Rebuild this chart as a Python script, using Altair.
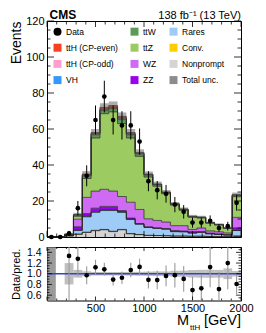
import altair as alt
import pandas as pd
import numpy as np

# ---------------- data ----------------
x_lo, x_hi = 0, 2000
n_bins = 22
data_counts = [0, 0, 2, 16, 34, 65, 78, 65, 62, 62, 53, 31, 26, 24, 18, 14, 8, 8, 9, 5, 6, 19]

# stacked backgrounds, bottom -> top
nonprompt = [0, 0.1, 0.6, 1.5, 2.5, 3.5, 4.0, 3.0, 4.0, 1.8, 1.3, 0.9, 0.8, 0.7, 0.5, 0.5, 0.4, 0.4, 0.3, 0.2, 0.2, 0.5]
conv      = [0, 0, 0, 0.1, 0.2, 0.2, 0.2, 0.2, 0.2, 0.1, 0.1, 0, 0, 0, 0, 0, 0, 0, 0, 0, 0, 0]
rares     = [0, 0, 0.4, 2.0, 8.5, 10.0, 10.5, 11.5, 9.5, 7.8, 5.7, 4.4, 4.0, 3.7, 2.5, 2.4, 1.8, 2.2, 1.5, 1.2, 0.9, 3.1]
vh        = [0, 0, 0, 0.2, 0.3, 0.3, 0.3, 0.3, 0.2, 0.2, 0.1, 0.1, 0.1, 0, 0, 0, 0, 0, 0, 0, 0, 0]
zz        = [0, 0, 0.1, 1.9, 1.5, 2.0, 2.0, 2.0, 0.8, 0.6, 0.3, 0.2, 0.1, 0.2, 0.6, 0.4, 0.8, 0.4, 0.3, 0.3, 0.2, 1.5]
wz        = [0, 0, 0.3, 4.2, 9.0, 9.5, 9.5, 8.5, 7.8, 8.8, 7.8, 4.5, 4.2, 3.7, 2.7, 3.0, 1.2, 2.0, 1.3, 1.2, 1.0, 5.8]
ttz       = [0, 0, 0.1, 1.6, 10.5, 29.5, 42.0, 44.0, 40.5, 35.7, 29.5, 23.2, 19.0, 15.7, 11.4, 8.5, 6.8, 5.6, 4.3, 3.8, 2.5, 11.5]
ttw       = [0, 0, 0, 0.6, 1.5, 2.0, 2.0, 2.0, 2.5, 2.0, 1.5, 1.2, 0.9, 0.7, 0.5, 0.5, 0.3, 0.3, 0.2, 0.2, 0.1, 0.8]
tth_odd   = [0, 0, 0, 0.1, 0.3, 0.4, 0.5, 0.5, 0.5, 0.3, 0.2, 0.2, 0.1, 0.1, 0.1, 0.1, 0, 0, 0, 0, 0, 0.1]
tth_even  = [0, 0, 0, 0.3, 0.7, 0.6, 1.0, 1.0, 1.0, 0.7, 0.5, 0.3, 0.3, 0.2, 0.2, 0.1, 0.2, 0.1, 0.1, 0.1, 0.1, 0.2]
total_unc = [0, 0, 0.3, 0.9, 1.6, 2.0, 2.3, 2.3, 2.2, 2.0, 1.7, 1.4, 1.3, 1.1, 1.0, 0.9, 0.8, 0.8, 0.6, 0.5, 0.5, 1.2]

stack_names = ["Nonprompt", "Conv.", "Rares", "VH", "ZZ", "WZ", "ttZ", "ttW",
               "ttH (CP-odd)", "ttH (CP-even)"]
stack_vals = [nonprompt, conv, rares, vh, zz, wz, ttz, ttw, tth_odd, tth_even]

# legend entries (filled column by column, 4 rows)
legend_order = ["Data", "ttH (CP-even)", "ttH (CP-odd)", "VH",
                "ttW", "ttZ", "WZ", "ZZ",
                "Rares", "Conv.", "Nonprompt", "Total unc."]
legend_colors = ["#000000", "#f8421f", "#ff9fd0", "#3399ff",
                 "#5b9b57", "#9ccb62", "#cf6af2", "#9a00f0",
                 "#9fcbf7", "#ffcc00", "#d4d4d4", "#8c8c8c"]
legend_shapes = ["circle"] + ["square"] * 11

y_labels = [0, 20, 40, 60, 80, 100, 120]
r_labels = [0.6, 0.8, 1.0, 1.2, 1.4]
x_labels = [500, 1000, 1500, 2000]

# ---------------- derived tables ----------------
edges = np.linspace(x_lo, x_hi, n_bins + 1)
blo, bhi = edges[:-1], edges[1:]
ctr = (blo + bhi) / 2

area_rows, line_rows = [], []
cum = np.zeros(n_bins)
for name, vals in zip(stack_names, stack_vals):
    v = np.array(vals, dtype=float)
    new = cum + v
    for i in range(n_bins + 1):
        k = min(i, n_bins - 1)
        area_rows.append(dict(proc=name, x=edges[i], y0=cum[k], y1=new[k]))
        line_rows.append(dict(proc=name, x=edges[i], y=new[k]))
    cum = new
total = cum
df_area = pd.DataFrame(area_rows)
df_line = pd.DataFrame(line_rows)

unc = np.array(total_unc)
df_unc = pd.DataFrame(dict(x0=blo, x1=bhi, lo=total - unc, hi=total + unc))[total > 0]

n = np.array(data_counts, dtype=float)
df_data = pd.DataFrame(dict(x=ctr, n=n, lo=n - np.sqrt(n), hi=n + np.sqrt(n)))

has = total > 0
safe = np.where(has, total, 1.0)
df_ratio = pd.DataFrame(dict(x=ctr, r=n / safe, lo=(n - np.sqrt(n)) / safe,
                             hi=(n + np.sqrt(n)) / safe))[has]
df_rband = pd.DataFrame(dict(x0=blo, x1=bhi, lo=1 - unc / safe, hi=1 + unc / safe))[has]
df_rempty = pd.DataFrame(dict(x0=blo, x1=bhi, lo=0.5, hi=1.5))[~has]

# ---------------- scales / axes ----------------
W, H, HR = 194, 216, 53.5
FONT = "Liberation Sans"
xs = alt.Scale(domain=[x_lo, x_hi], nice=False, zero=False)
ys = alt.Scale(domain=[0, 120], nice=False, zero=False)
rs = alt.Scale(domain=[0.5, 1.5], nice=False, zero=False)
cscale = alt.Scale(domain=legend_order, range=legend_colors)

y_axis = alt.Axis(values=y_labels, tickSize=0, domain=False, grid=False, labelFontSize=11,
                  labelPadding=3, labelFlush=False, labelColor="black", labelFont=FONT,
                  title="Events", titleFontSize=14, titleFontWeight="normal", titleFont=FONT,
                  titleColor="black", titleAnchor="end", titlePadding=2,
                  minExtent=22, maxExtent=22)
r_axis = alt.Axis(values=r_labels, format=".1f", tickSize=0, domain=False, grid=False,
                  labelFontSize=10.5, labelPadding=6, labelFlush=False, labelColor="black",
                  labelFont=FONT, title="Data/pred.", titleFontSize=11,
                  titleFontWeight="normal", titleFont=FONT, titleColor="black",
                  titlePadding=4, minExtent=22, maxExtent=22)
rx_axis = alt.Axis(values=x_labels, format="d", tickSize=0, domain=False, grid=False,
                   labelFontSize=11, labelPadding=2, labelFlush=False, labelColor="black",
                   labelFont=FONT, title=None)

MX = lambda f: alt.X(f, scale=xs, axis=None)
MY = lambda f: alt.Y(f, scale=ys, axis=y_axis, stack=None)
RX = lambda f: alt.X(f, scale=xs, axis=rx_axis)
RY = lambda f: alt.Y(f, scale=rs, axis=r_axis, stack=None)


def ticks_x(values, panel_h, length, enc_x):
    d = pd.DataFrame({"v": values})
    bot = alt.Chart(d).mark_rule(color="black", strokeWidth=0.8).encode(
        x=enc_x("v:Q"), y=alt.value(panel_h), y2=alt.value(panel_h - length))
    top = alt.Chart(d).mark_rule(color="black", strokeWidth=0.8).encode(
        x=enc_x("v:Q"), y=alt.value(0), y2=alt.value(length))
    return [bot, top]


def ticks_y(values, length, enc_y):
    d = pd.DataFrame({"v": values})
    left = alt.Chart(d).mark_rule(color="black", strokeWidth=0.8).encode(
        y=enc_y("v:Q"), x=alt.value(0), x2=alt.value(length))
    right = alt.Chart(d).mark_rule(color="black", strokeWidth=0.8).encode(
        y=enc_y("v:Q"), x=alt.value(W), x2=alt.value(W - length))
    return [left, right]


x_major = list(range(0, 2001, 500))
x_minor = [v for v in range(0, 2001, 100) if v % 500]
y_major = y_labels
y_minor = [v for v in range(0, 121, 5) if v % 20]
r_major = r_labels
r_minor = [round(v, 2) for v in np.arange(0.55, 1.5, 0.05) if round(v * 100) % 20 != 0]

one = pd.DataFrame({"a": [0]})

leg = alt.Legend(orient="none", legendX=6, legendY=6, columns=3, title=None,
                 symbolSize=64, symbolStrokeColor="black", symbolStrokeWidth=0.6,
                 symbolOpacity=1, labelFontSize=8.5, labelFont=FONT, labelColor="black",
                 labelOffset=4, rowPadding=5.2, columnPadding=11, padding=0)

# ---------------- main panel ----------------
areas = alt.Chart(df_area).mark_area(interpolate="step-after", opacity=1).encode(
    x=MX("x:Q"), y=MY("y1:Q"), y2="y0",
    color=alt.Color("proc:N", scale=cscale, legend=leg))
steps = alt.Chart(df_line).mark_line(interpolate="step-after", color="#222222",
                                     strokeWidth=0.7).encode(
    x=MX("x:Q"), y=MY("y:Q"), detail="proc:N")
band = alt.Chart(df_unc).mark_rect(color="#5a5a5a", opacity=0.5).encode(
    x=MX("x0:Q"), x2="x1", y=MY("lo:Q"), y2="hi")
err = alt.Chart(df_data).mark_rule(color="black", strokeWidth=1).encode(
    x=MX("x:Q"), y=MY("lo:Q"), y2="hi")
pts = alt.Chart(df_data).mark_circle(color="black", size=22, opacity=1).encode(
    x=MX("x:Q"), y=MY("n:Q"))

legend_layer = alt.Chart(pd.DataFrame({"proc": legend_order})).mark_point(
    filled=True, opacity=0).encode(
    x=alt.value(100), y=alt.value(100),
    color=alt.Color("proc:N", scale=cscale, legend=leg),
    shape=alt.Shape("proc:N", scale=alt.Scale(domain=legend_order, range=legend_shapes),
                    legend=leg))

cms = alt.Chart(one).mark_text(text="CMS", font=FONT, fontWeight="bold", fontSize=12,
                               align="left", baseline="top", color="black").encode(
    x=alt.value(2.5), y=alt.value(-11.5))
lumi = alt.Chart(one).mark_text(text="138 fb\u207b\u00b9 (13 TeV)", font=FONT, fontSize=11,
                                align="right", baseline="top", color="black").encode(
    x=alt.value(W), y=alt.value(-11))

main_layers = [areas, steps, band, err, pts]
main_layers += ticks_x(x_major, H, 6, MX) + ticks_x(x_minor, H, 3.5, MX)
main_layers += ticks_y(y_major, 7, MY) + ticks_y(y_minor, 3.5, MY)
main_layers += [cms, lumi, legend_layer]
main = alt.layer(*main_layers).properties(width=W, height=H)

# ---------------- ratio panel ----------------
rempty = alt.Chart(df_rempty).mark_rect(color="#7a7a7a", opacity=0.75).encode(
    x=RX("x0:Q"), x2="x1", y=RY("lo:Q"), y2="hi")
rband = alt.Chart(df_rband).mark_rect(color="#8a8a8a", opacity=0.55).encode(
    x=RX("x0:Q"), x2="x1", y=RY("lo:Q"), y2="hi")
one_line = alt.Chart(pd.DataFrame({"v": [1.0]})).mark_rule(color="#3344cc", strokeWidth=1.6).encode(
    y=RY("v:Q"))
rerr = alt.Chart(df_ratio).mark_rule(color="#9a9a9a", strokeWidth=1.1, clip=True).encode(
    x=RX("x:Q"), y=RY("lo:Q"), y2="hi")
rpts = alt.Chart(df_ratio).mark_circle(color="black", size=22, opacity=1, clip=True).encode(
    x=RX("x:Q"), y=RY("r:Q"))

xt_m = alt.Chart(one).mark_text(text="M", font=FONT, fontSize=14.5, align="right",
                                baseline="alphabetic", color="black").encode(
    x=alt.value(142), y=alt.value(78))
xt_s = alt.Chart(one).mark_text(text="ttH", font=FONT, fontSize=8, align="left",
                                baseline="alphabetic", color="black").encode(
    x=alt.value(143), y=alt.value(82.5))
xt_u = alt.Chart(one).mark_text(text="[GeV]", font=FONT, fontSize=14.5, align="right",
                                baseline="alphabetic", color="black").encode(
    x=alt.value(W), y=alt.value(78))

ratio_layers = [rempty, rband, one_line, rerr, rpts]
ratio_layers += ticks_x(x_major, HR, 4, RX) + ticks_x(x_minor, HR, 2, RX)
ratio_layers += ticks_y(r_major, 5, RY) + ticks_y(r_minor, 2.5, RY)
ratio_layers += [xt_m, xt_s, xt_u]
ratio = alt.layer(*ratio_layers).properties(width=W, height=HR)

chart = alt.vconcat(main, ratio, spacing=10, bounds="flush").properties(
    padding={"left": 0, "top": 0, "right": 2, "bottom": 0}
).configure(font=FONT).configure_view(stroke="black", strokeWidth=1)

chart.save("out.html", embed_options={"renderer": "svg", "actions": False})
